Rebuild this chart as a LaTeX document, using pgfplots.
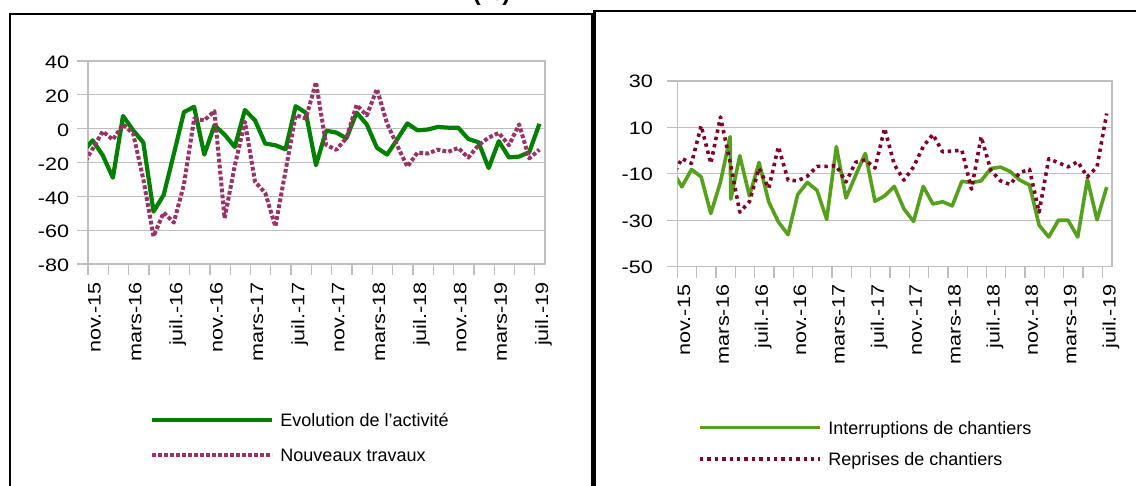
\documentclass[border=0pt]{standalone}
\usepackage{fontspec}
\setmainfont{Liberation Sans}
\usepackage{graphicx}
\usepackage{pgfplots}
\pgfplotsset{compat=1.18}
\newcommand\wt[1]{\scalebox{1.2}[1]{#1}}
\definecolor{agreen}{RGB}{0,128,0}
\definecolor{aplum}{RGB}{153,51,102}
\definecolor{bgreen}{RGB}{86,160,30}
\definecolor{bmaroon}{RGB}{128,0,38}
\definecolor{axgray}{RGB}{190,190,190}
\pgfplotsset{
  panel/.style={
    scale only axis,
    xmin=0, xmax=45,
    axis line style={draw=axgray, line width=1.3pt},
    tick align=outside,
    tick pos=left,
    major tick length=11pt,
    tick style={draw=axgray, line width=1.3pt},
    ymajorgrids,
    grid style={draw=axgray, line width=1.3pt},
    xtick={0,2,...,44},
    xticklabels={\wt{nov.-15},,\wt{mars-16},,\wt{juil.-16},,\wt{nov.-16},,\wt{mars-17},,\wt{juil.-17},,\wt{nov.-17},,\wt{mars-18},,\wt{juil.-18},,\wt{nov.-18},,\wt{mars-19},,\wt{juil.-19}},
    xticklabel style={rotate=90, anchor=north east, inner sep=0pt, xshift=-7pt, font=\fontsize{18}{18}\selectfont},
    yticklabel={\wt{\pgfmathprintnumber{\tick}}},
    /pgf/number format/assume math mode=true,
    legend cell align=left,
    legend image code/.code={\draw[##1] (0pt,0pt) -- (120pt,0pt);},
    legend style={draw=none, fill=none, inner sep=0pt, outer sep=0pt, column sep=6.5pt,
      font=\fontsize{18}{18}\selectfont, nodes={inner sep=0pt, text height=13pt, text depth=0pt}},
  }
}
\begin{document}
\begin{tikzpicture}
\useasboundingbox (0pt,0pt) rectangle (1136pt,-486pt);
\clip (0pt,0pt) rectangle (1136pt,-486pt);
\draw[line width=2.2pt] (9.6pt,-520pt) -- (9.6pt,-14pt) -- (591.6pt,-14pt) -- (591.6pt,-520pt);
\draw[line width=2.2pt] (594.4pt,-520pt) -- (594.4pt,-11.3pt) -- (1160pt,-11.3pt);
\node[anchor=base east, inner sep=0pt, font=\bfseries\fontsize{24}{24}\selectfont] at (510.5pt,-0.5pt) {(\%)};

\begin{axis}[panel, at={(88pt,-61pt)}, anchor=north west, width=457pt, height=203pt,
  ymin=-80, ymax=40, ytick={-80,-60,...,40},
  yticklabel style={anchor=east, inner sep=0pt, xshift=-7.7pt, yshift=-1.5pt, font=\fontsize{18}{18}\selectfont},
  legend style={at={(axis description cs:0.1352,-0.7365)}, anchor=north west, row sep=22pt}]
\addplot[agreen, line width=4.2pt, line join=round] table[x=x,y=y] {
x y
-0.55 -14.2
0.45 -6.9
1.45 -15.7
2.45 -29.0
3.45 7.5
4.45 -1.0
5.45 -8.2
6.45 -49.0
7.45 -39.2
8.45 -15.0
9.45 9.8
10.45 12.9
11.45 -15.3
12.45 2.0
13.45 -3.5
14.45 -10.8
15.45 11.0
16.45 4.9
17.45 -8.8
18.45 -9.8
19.45 -12.2
20.45 13.3
21.45 9.4
22.45 -21.6
23.45 -1.2
24.45 -2.3
25.45 -5.7
26.45 9.5
27.45 2.5
28.45 -11.3
29.45 -15.3
30.45 -6.3
31.45 3.1
32.45 -1.0
33.45 -0.5
34.45 1.0
35.45 0.6
36.45 0.6
37.45 -6.1
38.45 -8.0
39.45 -23.3
40.45 -7.4
41.45 -17.0
42.45 -16.5
43.45 -13.9
44.45 2.9
};
\addlegendentry{Evolution de l’activité}
\addplot[aplum, line width=4pt, dash pattern=on 3.8pt off 2.2pt, line join=round] table[x=x,y=y] {
x y
-0.55 -22.0
0.45 -12.0
1.45 -1.6
2.45 -6.5
3.45 2.5
4.45 -3.0
5.45 -30.0
6.45 -63.7
7.45 -49.6
8.45 -55.5
9.45 -33.0
10.45 5.9
11.45 4.9
12.45 10.4
13.45 -53.0
14.45 -22.0
15.45 4.0
16.45 -31.4
17.45 -38.0
18.45 -57.8
19.45 -25.0
20.45 8.0
21.45 6.0
22.45 27.5
23.45 -9.6
24.45 -12.5
25.45 -5.5
26.45 14.0
27.45 7.8
28.45 23.5
29.45 3.0
30.45 -10.0
31.45 -22.5
32.45 -14.1
33.45 -14.7
34.45 -12.4
35.45 -13.7
36.45 -11.4
37.45 -17.1
38.45 -9.8
39.45 -5.3
40.45 -2.5
41.45 -9.8
42.45 2.5
43.45 -17.6
44.45 -12.4
};
\addlegendentry{Nouveaux travaux}
\end{axis}

\begin{axis}[panel, at={(677.5pt,-81pt)}, anchor=north west, width=434.5pt, height=185.7pt,
  ymin=-50, ymax=30, ytick={-50,-30,...,30},
  yticklabel style={anchor=east, inner sep=0pt, xshift=-13.5pt, yshift=-0.7pt, font=\fontsize{18}{18}\selectfont},
  legend style={at={(axis description cs:0.0478,-0.832)}, anchor=north west, row sep=18.6pt}]
\addplot[bgreen, line width=3.6pt, line join=round] table[x=x,y=y] {
x y
-0.55 -8.5
0.45 -15.6
1.45 -8.1
2.45 -11.3
3.45 -27.1
4.45 -13.5
5.45 6.0
5.52 -20.9
6.45 -2.2
7.45 -19.5
8.45 -5.1
9.45 -22.1
10.45 -30.7
11.45 -36.2
12.45 -18.9
13.45 -13.7
14.45 -17.1
15.45 -29.6
16.45 1.7
17.45 -20.4
18.45 -10.6
19.45 -1.2
20.45 -21.8
21.45 -19.5
22.45 -15.4
23.45 -25.1
24.45 -30.5
25.45 -15.4
26.45 -23.0
27.45 -22.0
28.45 -23.8
29.45 -13.2
30.45 -13.8
31.45 -13.0
32.45 -7.7
33.45 -7.1
34.45 -9.0
35.45 -12.7
36.45 -14.8
37.45 -32.1
38.45 -37.2
39.45 -30.0
40.45 -30.0
41.45 -37.2
42.45 -12.3
43.45 -29.8
44.45 -15.7
};
\addlegendentry{Interruptions de chantiers}
\addplot[bmaroon, line width=3.6pt, dash pattern=on 3.4pt off 4pt, line join=round] table[x=x,y=y] {
x y
-0.55 -11.4
0.45 -3.4
1.45 -5.5
2.45 10.7
3.45 -5.5
4.45 14.5
5.45 -5.0
6.45 -26.5
7.45 -22.0
8.45 -7.6
9.45 -16.2
10.45 1.7
11.45 -12.7
12.45 -13.0
13.45 -11.0
14.45 -6.8
15.45 -6.8
16.45 -6.5
17.45 -13.5
18.45 -5.0
19.45 -4.0
20.45 -7.5
21.45 9.6
22.45 -6.0
23.45 -12.7
24.45 -7.0
25.45 1.8
26.45 7.0
27.45 -0.5
28.45 -0.2
29.45 0.2
30.45 -16.6
31.45 6.0
32.45 -8.5
33.45 -13.0
34.45 -14.6
35.45 -9.5
36.45 -8.0
37.45 -26.5
38.45 -3.5
39.45 -5.2
40.45 -7.0
41.45 -4.8
42.45 -11.3
43.45 -7.0
44.45 16.0
};
\addlegendentry{Reprises de chantiers}
\end{axis}
\end{tikzpicture}
\end{document}
